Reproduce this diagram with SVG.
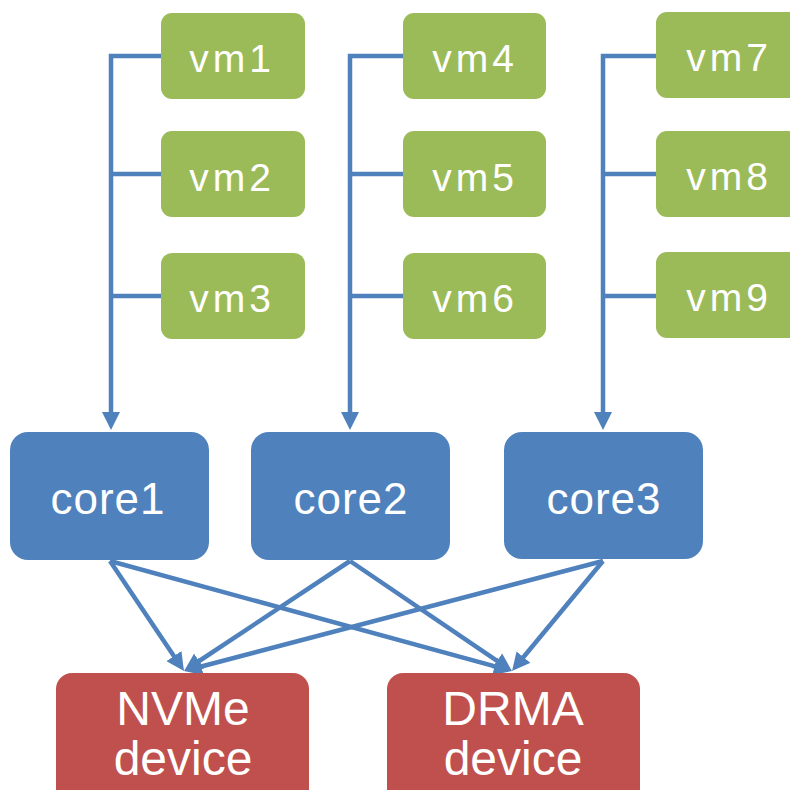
<svg xmlns="http://www.w3.org/2000/svg" width="790" height="790" viewBox="0 0 790 790">
  <style>
    .vm rect { fill: #9BBB59; }
    .core rect { fill: #4F81BD; }
    .dev rect { fill: #C0504D; }
    text { font-family: "Liberation Sans", Arial, sans-serif; fill: #FFFFFF; text-anchor: middle; }
    .vm text { font-size: 39px; letter-spacing: 4px; }
    .core text { font-size: 44px; letter-spacing: 1px; }
    .dev text { font-size: 48px; }
    .link { fill: none; stroke: #4F81BD; stroke-width: 4.5; marker-end: url(#arrow); }
    .branch { fill: none; stroke: #4F81BD; stroke-width: 4.5; }
  </style>
  <defs>
    <marker id="arrow" markerUnits="userSpaceOnUse" viewBox="0 0 18 18" markerWidth="18" markerHeight="18" refX="8" refY="9" orient="auto">
      <path d="M0,0 L18,9 L0,18 Z" fill="#4F81BD"/>
    </marker>
  </defs>

  <!-- connectors -->
  <g id="connectors">
    <!-- vm group 1 -> core1 -->
    <path class="link" d="M161,56 H111 V420"/>
    <path class="branch" d="M111,174 H161 M111,296 H161"/>
    <!-- vm group 2 -> core2 -->
    <path class="link" d="M403,56 H350 V420"/>
    <path class="branch" d="M350,174 H403 M350,296 H403"/>
    <!-- vm group 3 -> core3 -->
    <path class="link" d="M656,56 H603 V420"/>
    <path class="branch" d="M603,174 H656 M603,296 H656"/>

    <!-- cores -> devices -->
    <path class="link" d="M110,561 L178.4,662.7"/>
    <path class="link" d="M110,561 L502.3,668.4"/>
    <path class="link" d="M350,561 L192.4,665.5"/>
    <path class="link" d="M350,561 L503.7,665.4"/>
    <path class="link" d="M603,561 L193.7,668.5"/>
    <path class="link" d="M603,561 L518.4,663.3"/>
  </g>

  <!-- virtual machines -->
  <g id="vm1" class="vm"><rect x="161" y="13" width="144" height="86" rx="11"/><text x="232" y="72">vm1</text></g>
  <g id="vm2" class="vm"><rect x="161" y="131" width="144" height="86" rx="11"/><text x="232" y="191">vm2</text></g>
  <g id="vm3" class="vm"><rect x="161" y="253" width="144" height="86" rx="11"/><text x="232" y="312">vm3</text></g>
  <g id="vm4" class="vm"><rect x="403" y="13" width="143" height="86" rx="11"/><text x="475" y="72">vm4</text></g>
  <g id="vm5" class="vm"><rect x="403" y="131" width="143" height="86" rx="11"/><text x="475" y="191">vm5</text></g>
  <g id="vm6" class="vm"><rect x="403" y="253" width="143" height="86" rx="11"/><text x="475" y="312">vm6</text></g>
  <g id="vm7" class="vm"><rect x="656" y="12" width="144" height="86" rx="11"/><text x="729" y="71">vm7</text></g>
  <g id="vm8" class="vm"><rect x="656" y="131" width="144" height="86" rx="11"/><text x="729" y="190">vm8</text></g>
  <g id="vm9" class="vm"><rect x="656" y="252" width="144" height="86" rx="11"/><text x="729" y="311">vm9</text></g>

  <!-- cores -->
  <g id="core1" class="core"><rect x="10" y="432" width="199" height="128" rx="18"/><text x="108" y="514">core1</text></g>
  <g id="core2" class="core"><rect x="251" y="432" width="199" height="128" rx="18"/><text x="351" y="514">core2</text></g>
  <g id="core3" class="core"><rect x="504" y="432" width="199" height="127" rx="18"/><text x="604" y="514">core3</text></g>

  <!-- devices -->
  <g id="nvme" class="dev"><rect x="56" y="673" width="253" height="140" rx="16"/><text x="183" y="725">NVMe</text><text x="183" y="775">device</text></g>
  <g id="drma" class="dev"><rect x="387" y="673" width="253" height="140" rx="16"/><text x="513" y="725">DRMA</text><text x="513" y="775">device</text></g>
</svg>
